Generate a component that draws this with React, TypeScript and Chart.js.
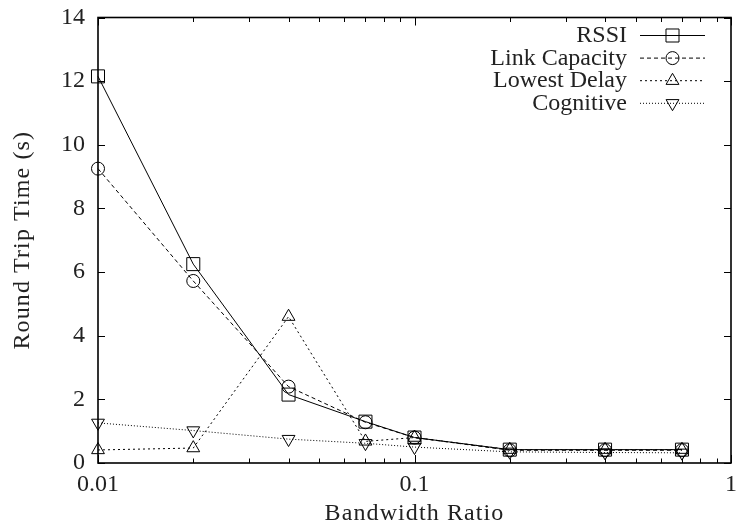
import React, { useEffect, useRef } from 'react';
import { Chart, registerables } from 'chart.js';

Chart.register(...registerables);

const xValues = [0.01, 0.02, 0.04, 0.07, 0.1, 0.2, 0.4, 0.7];
const rssi = [12.15, 6.25, 2.15, 1.3, 0.8, 0.42, 0.42, 0.42];
const linkCapacity = [9.25, 5.72, 2.4, 1.28, 0.8, 0.4, 0.4, 0.4];
const lowestDelay = [0.41, 0.47, 4.6, 0.68, 0.8, 0.42, 0.42, 0.42];
const cognitive = [1.26, 1.02, 0.75, 0.62, 0.5, 0.35, 0.33, 0.32];
const seriesNames = ['RSSI', 'Link Capacity', 'Lowest Delay', 'Cognitive'];
const xTickValues = [0.01, 0.1, 1];
const xTickLabels = ['0.01', '0.1', '1'];
const yTickValues = [0, 2, 4, 6, 8, 10, 12, 14];
const xTitle = 'Bandwidth Ratio';
const yTitle = 'Round Trip Time (s)';

const FONT = '"Liberation Serif", "Times New Roman", serif';
const TEXT = '#222';
const PLOT_RIGHT = 731;

type Marker = { style: string; radius: number; rotation: number; dash: number[] };
const markers: Marker[] = [
  { style: 'rect', radius: 9.2, rotation: 0, dash: [] },
  { style: 'circle', radius: 6.5, rotation: 0, dash: [4, 3] },
  { style: 'triangle', radius: 7.4, rotation: 0, dash: [2, 3] },
  { style: 'triangle', radius: 7.4, rotation: 180, dash: [1, 2] },
];

function drawMarker(ctx: CanvasRenderingContext2D, m: Marker, x: number, y: number) {
  ctx.save();
  ctx.setLineDash([]);
  ctx.lineWidth = 1;
  ctx.strokeStyle = '#000';
  ctx.beginPath();
  if (m.style === 'rect') {
    const s = m.radius * Math.SQRT1_2;
    ctx.rect(x - s, y - s, 2 * s, 2 * s);
  } else if (m.style === 'circle') {
    ctx.arc(x, y, m.radius, 0, Math.PI * 2);
  } else {
    const r = m.radius;
    const rot = (m.rotation * Math.PI) / 180;
    for (let k = 0; k < 3; k++) {
      const a = rot - Math.PI / 2 + (k * 2 * Math.PI) / 3;
      const px = x + Math.cos(a) * r;
      const py = y + Math.sin(a) * r;
      if (k === 0) ctx.moveTo(px, py);
      else ctx.lineTo(px, py);
    }
    ctx.closePath();
  }
  ctx.stroke();
  ctx.restore();
}

const framePlugin = {
  id: 'frameTicks',
  afterLayout(chart: any) {
    const xs = chart.scales.x;
    chart.chartArea.right = PLOT_RIGHT;
    chart.chartArea.width = PLOT_RIGHT - chart.chartArea.left;
    xs.right = PLOT_RIGHT;
    xs.width = PLOT_RIGHT - xs.left;
    xs.configure();
  },
  afterDatasetsDraw(chart: any) {
    const { ctx, chartArea } = chart;
    const { left, right, top, bottom } = chartArea;
    const xs = chart.scales.x;
    const ys = chart.scales.y;
    ctx.save();
    ctx.strokeStyle = '#000';
    ctx.lineWidth = 1;
    ctx.setLineDash([]);
    ctx.beginPath();
    yTickValues.forEach((v) => {
      const py = Math.round(ys.getPixelForValue(v)) + 0.5;
      ctx.moveTo(left, py);
      ctx.lineTo(left + 7, py);
      ctx.moveTo(right, py);
      ctx.lineTo(right - 7, py);
    });
    xTickValues.forEach((v) => {
      const px = Math.round(xs.getPixelForValue(v)) + 0.5;
      ctx.moveTo(px, bottom);
      ctx.lineTo(px, bottom - 8);
      ctx.moveTo(px, top);
      ctx.lineTo(px, top + 8);
    });
    for (let d = 0; d < xTickValues.length - 1; d++) {
      for (let k = 2; k <= 9; k++) {
        const px = Math.round(xs.getPixelForValue(xTickValues[d] * k)) + 0.5;
        ctx.moveTo(px, bottom);
        ctx.lineTo(px, bottom - 4.5);
        ctx.moveTo(px, top);
        ctx.lineTo(px, top + 4.5);
      }
    }
    ctx.stroke();
    ctx.lineWidth = 1.6;
    ctx.strokeRect(left, top, right - left, bottom - top);

    ctx.fillStyle = TEXT;
    ctx.font = `24px ${FONT}`;
    ctx.textAlign = 'center';
    ctx.textBaseline = 'middle';
    (ctx as any).letterSpacing = '1.1px';
    ctx.fillText(xTitle, (left + right) / 2, 514);
    ctx.translate(23, (top + bottom) / 2);
    ctx.rotate(-Math.PI / 2);
    ctx.fillText(yTitle, 0, 0);
    ctx.restore();
  },
  afterDraw(chart: any) {
    const { ctx } = chart;
    ctx.save();
    chart.data.datasets.forEach((ds: any, i: number) => {
      const y = 35 + i * 22.6;
      ctx.fillStyle = TEXT;
      ctx.font = `24px ${FONT}`;
      ctx.textAlign = 'right';
      ctx.textBaseline = 'middle';
      ctx.fillText(ds.label, 627, y + 1);
      ctx.strokeStyle = '#000';
      ctx.lineWidth = 1;
      ctx.setLineDash(markers[i].dash);
      ctx.beginPath();
      ctx.moveTo(640, y + 0.5);
      ctx.lineTo(705, y + 0.5);
      ctx.stroke();
      drawMarker(ctx, markers[i], 672.5, y + 0.5);
    });
    ctx.restore();
  },
};

export default function App() {
  const ref = useRef<HTMLCanvasElement | null>(null);
  useEffect(() => {
    if (!ref.current) return;
    const series = [rssi, linkCapacity, lowestDelay, cognitive];
    const chart = new Chart(ref.current, {
      type: 'line',
      data: {
        datasets: series.map((vals, i) => ({
          label: seriesNames[i],
          data: xValues.map((x, j) => ({ x, y: vals[j] })),
          borderColor: '#000',
          borderWidth: 1,
          borderDash: markers[i].dash,
          backgroundColor: 'transparent',
          pointStyle: markers[i].style as any,
          pointRadius: markers[i].radius,
          pointRotation: markers[i].rotation,
          pointBorderColor: '#000',
          pointBackgroundColor: 'transparent',
          pointBorderWidth: 1,
          fill: false,
          tension: 0,
          clip: false as any,
        })),
      },
      options: {
        responsive: false,
        animation: false,
        events: [],
        layout: { padding: { left: 0, top: 17.5, right: 0, bottom: 0 } },
        plugins: {
          legend: { display: false },
          tooltip: { enabled: false },
        },
        scales: {
          x: {
            type: 'logarithmic',
            min: 0.01,
            max: 1,
            grid: { display: false, drawTicks: false },
            border: { display: false },
            afterBuildTicks: (scale: any) => {
              scale.ticks = xTickValues.map((v) => ({ value: v }));
            },
            afterFit: (scale: any) => {
              scale.height = 65;
              scale.paddingLeft = 0;
              scale.paddingRight = 0;
            },
            ticks: {
              autoSkip: false,
              maxRotation: 0,
              padding: 7,
              color: TEXT,
              font: { family: FONT, size: 24 },
              callback: (_v: any, idx: number) => xTickLabels[idx],
            },
          },
          y: {
            type: 'linear',
            min: 0,
            max: 14,
            grid: { display: false, drawTicks: false },
            border: { display: false },
            afterBuildTicks: (scale: any) => {
              scale.ticks = yTickValues.map((v) => ({ value: v }));
            },
            afterFit: (scale: any) => {
              scale.width = 98;
              scale.paddingTop = 0;
              scale.paddingBottom = 0;
            },
            ticks: {
              padding: 13,
              color: TEXT,
              font: { family: FONT, size: 24 },
              callback: (v: any) => String(v),
            },
          },
        },
      },
      plugins: [framePlugin],
    });
    return () => chart.destroy();
  }, []);
  return (
    <div style={{ position: 'absolute', left: 0, top: 0, width: 736, height: 528, background: '#fff' }}>
      <canvas ref={ref} width={736} height={528} style={{ display: 'block' }} />
    </div>
  );
}
